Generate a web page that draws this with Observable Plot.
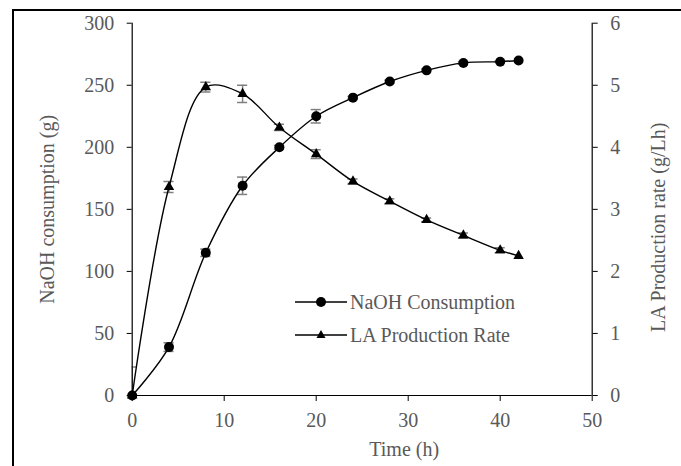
<!DOCTYPE html>
<html>
<head>
<meta charset="utf-8">
<script src="https://cdn.jsdelivr.net/npm/d3@7"></script>
<script src="https://cdn.jsdelivr.net/npm/@observablehq/plot@0.6"></script>
<style>
  html, body { margin: 0; padding: 0; background: #fff; overflow: hidden; }
  #wrap { position: relative; width: 681px; height: 466px; }
  #border { position: absolute; left: 12px; top: 9px; width: 720px; height: 520px; border: 2px solid #000; box-sizing: border-box; }
  #chart { position: absolute; left: 0; top: 0; }
  .leg { position: absolute; left: 295px; font-family: "Liberation Serif", serif; font-size: 20px; color: #595959; display: flex; align-items: center; height: 24px; }
  .leg svg { margin-right: 3px; }
</style>
</head>
<body>
<div id="wrap">
  <div id="border"></div>
  <div id="chart"></div>
  <div class="leg" style="top:290px"><svg width="52" height="14"><line x1="0" y1="7" x2="52" y2="7" stroke="#000" stroke-width="1.4"/><circle cx="26" cy="7" r="5" fill="#000"/></svg><span>NaOH Consumption</span></div>
  <div class="leg" style="top:323px"><svg width="52" height="14"><line x1="0" y1="7" x2="52" y2="7" stroke="#000" stroke-width="1.4"/><path d="M26,2 L30.5,10 L21.5,10 Z" fill="#000"/></svg><span>LA Production Rate</span></div>
</div>
<script>
const time    = [0, 4, 8, 12, 16, 20, 24, 28, 32, 36, 40, 42];
const naoh    = [0, 39, 115, 169, 200, 225, 240, 253, 262, 268, 269, 270];
const naohErr = [0, 3.5, 3, 7, 1.5, 5.4, 1, 1, 1, 1, 0.5, 0];
const laRate  = [0, 3.36, 4.97, 4.86, 4.32, 3.89, 3.45, 3.13, 2.83, 2.58, 2.34, 2.25];
const laErr   = [0.46, 0.09, 0.08, 0.14, 0.05, 0.07, 0.04, 0.04, 0.03, 0.04, 0.04, 0];
const xTicks  = [0, 10, 20, 30, 40, 50];
const yTicks  = [0, 50, 100, 150, 200, 250, 300];
const y2Ticks = [0, 1, 2, 3, 4, 5, 6];

const k = 300 / 6; // right axis scale onto left axis
const naohData = time.map((t, i) => ({t, v: naoh[i], e: naohErr[i]}));
const laData = time.map((t, i) => ({t, v: laRate[i] * k, e: laErr[i] * k}));
const capHalf = 0.55;

const plot = Plot.plot({
  width: 681, height: 466,
  marginLeft: 131.7, marginRight: 89.3, marginTop: 22.7, marginBottom: 71,
  style: {fontFamily: "Liberation Serif, serif", fontSize: "20px", color: "#595959", background: "transparent"},
  x: {domain: [0, 50]},
  y: {domain: [0, 300]},
  marks: [
    Plot.axisX({ticks: xTicks, tickSize: 6, tickPadding: 11, stroke: "#000", label: null}),
    Plot.axisY({anchor: "left", ticks: yTicks, tickSize: 5, tickPadding: 13, stroke: "#000", label: null}),
    Plot.axisY({anchor: "right", ticks: y2Ticks.map(d => d * k), tickFormat: d => String(d / k), tickSize: 5, tickPadding: 13, stroke: "#000", label: null}),
    // error bars
    Plot.ruleX(naohData.filter(d => d.e > 0), {x: "t", y1: d => d.v - d.e, y2: d => d.v + d.e, stroke: "#808080", strokeWidth: 1.5}),
    Plot.ruleY(naohData.filter(d => d.e > 0), {y: d => d.v - d.e, x1: d => d.t - capHalf, x2: d => d.t + capHalf, stroke: "#808080", strokeWidth: 1.5}),
    Plot.ruleY(naohData.filter(d => d.e > 0), {y: d => d.v + d.e, x1: d => d.t - capHalf, x2: d => d.t + capHalf, stroke: "#808080", strokeWidth: 1.5}),
    Plot.ruleX(laData.filter(d => d.e > 0), {x: "t", y1: d => d.v - d.e, y2: d => d.v + d.e, stroke: "#808080", strokeWidth: 1.5, clip: true}),
    Plot.ruleY(laData.filter(d => d.e > 0), {y: d => d.v - d.e, x1: d => d.t - capHalf, x2: d => d.t + capHalf, stroke: "#808080", strokeWidth: 1.5, clip: true}),
    Plot.ruleY(laData.filter(d => d.e > 0), {y: d => d.v + d.e, x1: d => d.t - capHalf, x2: d => d.t + capHalf, stroke: "#808080", strokeWidth: 1.5, clip: true}),
    // axis lines
    Plot.ruleX([0, 50], {stroke: "#000", strokeWidth: 1.2}),
    Plot.ruleY([0], {stroke: "#000", strokeWidth: 1.2}),
    // series
    Plot.line(naohData, {x: "t", y: "v", curve: "catmull-rom", stroke: "#000", strokeWidth: 1.4}),
    Plot.line(laData, {x: "t", y: "v", curve: "catmull-rom", stroke: "#000", strokeWidth: 1.4}),
    Plot.dot(naohData, {x: "t", y: "v", r: 5, fill: "#000", symbol: "circle"}),
    Plot.dot(laData, {x: "t", y: "v", r: 3.9, fill: "#000", symbol: "triangle"}),
    // axis titles
    Plot.text(["NaOH consumption (g)"], {frameAnchor: "left", text: d => d, rotate: -90, dx: -84.7, dy: 0, lineAnchor: "middle", textAnchor: "middle", fill: "#595959"}),
    Plot.text(["LA Production rate (g/Lh)"], {frameAnchor: "right", text: d => d, rotate: -90, dx: 66, dy: 18, lineAnchor: "middle", textAnchor: "middle", fill: "#595959"}),
    Plot.text(["Time (h)"], {frameAnchor: "bottom", text: d => d, dx: 42, dy: 53.6, lineAnchor: "middle", textAnchor: "middle", fill: "#595959"})
  ]
});
document.getElementById("chart").appendChild(plot);
</script>
</body>
</html>
